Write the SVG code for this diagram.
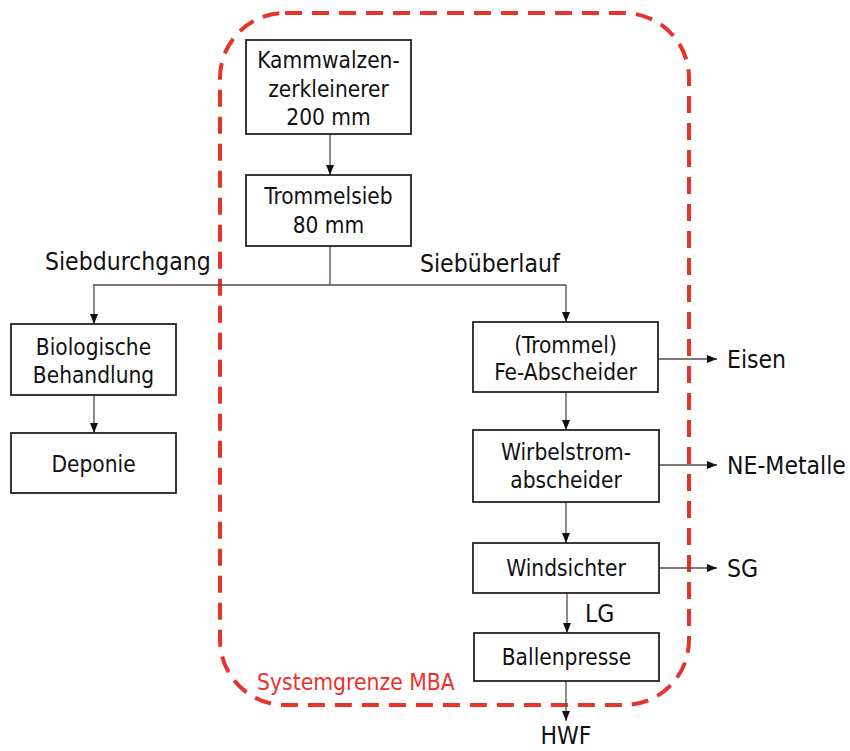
<svg xmlns="http://www.w3.org/2000/svg" width="850" height="751" viewBox="0 0 850 751">
<defs>
<marker id="ah" markerUnits="userSpaceOnUse" markerWidth="10" markerHeight="10" viewBox="0 0 10 10" refX="10" refY="5" orient="auto">
<path d="M0,1 L10,5 L0,9 Z" fill="#111"/>
</marker>
</defs>
<style>
.box{fill:#fff;stroke:#2a2020;stroke-width:1.8}
.t{font-family:"DejaVu Sans Condensed","DejaVu Sans",sans-serif;font-stretch:condensed;font-size:22.5px;fill:#111;text-anchor:middle}
.l{font-family:"DejaVu Sans Condensed","DejaVu Sans",sans-serif;font-stretch:condensed;font-size:24.5px;fill:#111}
.c{fill:none;stroke:#5a4a48;stroke-width:1.3}
.a{marker-end:url(#ah)}
</style>
<rect x="0" y="0" width="850" height="751" fill="#fff"/>
<rect id="systemgrenze" x="220" y="13" width="469" height="692" rx="65" ry="65" fill="none" stroke="#e8332b" stroke-width="4" stroke-dasharray="17 10"/>
<text x="257" y="690" font-family="DejaVu Sans Condensed,DejaVu Sans,sans-serif" font-stretch="condensed" font-size="22.7" fill="#e8332b">Systemgrenze MBA</text>
<g id="connectors">
<path class="c a" d="M330,134 V175"/>
<path class="c" d="M330,246 V285 M93,285 H566"/>
<path class="c a" d="M94,285 V324"/>
<path class="c a" d="M566,285 V322"/>
<path class="c a" d="M94,395 V433"/>
<path class="c a" d="M566,392 V430"/>
<path class="c a" d="M566,502 V543"/>
<path class="c a" d="M567,593 V633"/>
<path class="c a" d="M566,681 V721"/>
<path class="c a" d="M658,359 H717"/>
<path class="c a" d="M659,465 H717"/>
<path class="c a" d="M659,568 H717"/>
</g>
<g id="kammwalzen"><rect class="box" x="246" y="40" width="165" height="94"/>
<text class="t" x="328.5" y="68">Kammwalzen-</text><text class="t" x="328.5" y="97">zerkleinerer</text><text class="t" x="328.5" y="125">200 mm</text></g>
<g id="trommelsieb"><rect class="box" x="246" y="175" width="165" height="71"/>
<text class="t" x="328.5" y="204">Trommelsieb</text><text class="t" x="328.5" y="233">80 mm</text></g>
<g id="biologische"><rect class="box" x="11" y="324" width="165" height="71"/>
<text class="t" x="93.5" y="355">Biologische</text><text class="t" x="93.5" y="383">Behandlung</text></g>
<g id="deponie"><rect class="box" x="11" y="433" width="165" height="60"/>
<text class="t" x="93.5" y="472">Deponie</text></g>
<g id="fe"><rect class="box" x="473" y="322" width="185" height="70"/>
<text class="t" x="565.5" y="353">(Trommel)</text><text class="t" x="565.5" y="380">Fe-Abscheider</text></g>
<g id="wirbelstrom"><rect class="box" x="473" y="430" width="186" height="72"/>
<text class="t" x="566" y="460">Wirbelstrom-</text><text class="t" x="566" y="488">abscheider</text></g>
<g id="windsichter"><rect class="box" x="473" y="543" width="186" height="50"/>
<text class="t" x="566" y="576">Windsichter</text></g>
<g id="ballenpresse"><rect class="box" x="474" y="633" width="185" height="48"/>
<text class="t" x="566.5" y="665">Ballenpresse</text></g>
<g id="labels">
<text class="l" x="45" y="270">Siebdurchgang</text>
<text class="l" x="420" y="272">Siebüberlauf</text>
<text class="l" x="727" y="368">Eisen</text>
<text class="l" x="727" y="474">NE-Metalle</text>
<text class="l" x="727" y="577">SG</text>
<text class="l" x="585" y="622">LG</text>
<text class="l" x="566" y="744" text-anchor="middle">HWF</text>
</g>
</svg>
